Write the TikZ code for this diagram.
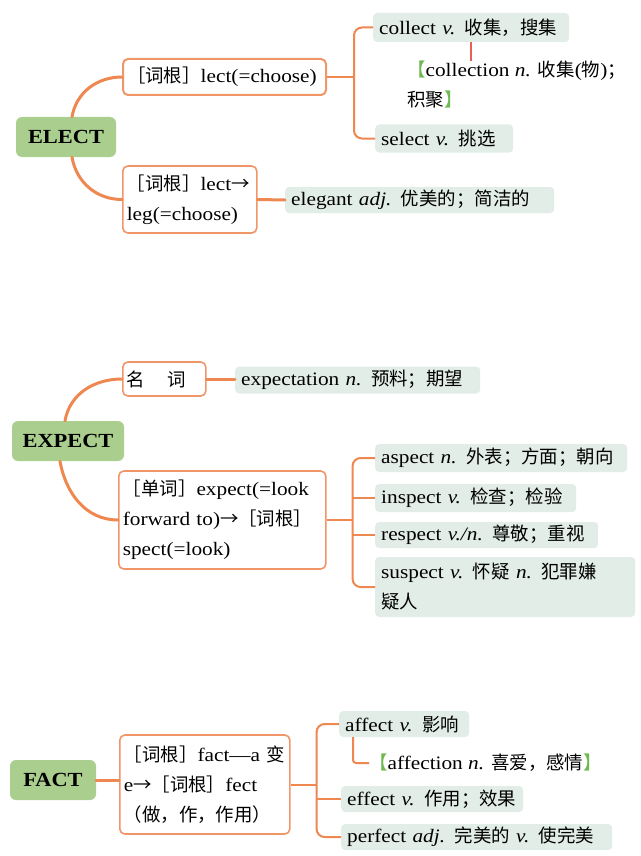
\documentclass[tikz,border=0pt]{standalone}
\usepackage{fontspec}
\setmainfont{Liberation Serif}[FakeStretch=1.12]
\newfontfamily\zhfont{Noto Sans CJK SC}[Scale=0.97]
\newcommand{\zh}[1]{{\zhfont #1}}
\usetikzlibrary{calc}

\definecolor{lineorange}{RGB}{238,135,80}
\definecolor{boxorange}{RGB}{240,150,105}
\definecolor{rootgreen}{RGB}{170,206,142}
\definecolor{leafgreen}{RGB}{225,237,230}
\definecolor{markgreen}{RGB}{110,185,80}
\definecolor{tickred}{RGB}{232,95,85}

\begin{document}
\begin{tikzpicture}[x=1pt, y=-1pt]
    % --- Style Definitions ---
    \tikzset{
        every node/.style={font=\fontsize{19}{30}\selectfont, text=black},
        % Word family head
        root word/.style={
            fill=rootgreen,
            rounded corners=6pt,
            font=\fontsize{20}{24}\selectfont\bfseries,
            inner sep=0pt,
            minimum height=40pt
        },
        % Orange framed etymology box
        stem box/.style={
            draw=boxorange,
            line width=1.6pt,
            rounded corners=5pt,
            fill=white,
            align=left,
            inner xsep=4pt,
            inner ysep=0pt,
            anchor=west
        },
        % Pale green word box
        leaf box/.style={
            fill=leafgreen,
            rounded corners=4pt,
            align=left,
            inner xsep=6pt,
            inner ysep=0pt,
            minimum height=28pt,
            anchor=west
        },
        % Plain note text
        note text/.style={
            align=left,
            inner sep=0pt
        },
        % Connectors
        main branch/.style={
            draw=lineorange,
            line width=3pt,
            line cap=round
        },
        twig/.style={
            draw=lineorange,
            line width=2pt,
            rounded corners=8pt
        },
        tick line/.style={
            draw=tickred,
            line width=1.5pt
        }
    }

    \useasboundingbox (0,0) rectangle (640,856);

    % --- 1. ELECT ---
    \node[root word, minimum width=100pt] (elect) at (66,137) {ELECT};
    \node[stem box, text width=195pt, minimum height=36pt, line width=2pt] (lectA) at (122,77)
        {\zh{［词根］}lect(=choose)};
    \node[stem box, text width=126pt, minimum height=67pt] (lectB) at (122,199.5)
        {\zh{［词根］}lect\zh{→}\\leg(=choose)};

    \node[leaf box, text width=184pt, minimum height=29pt] (collect) at (373,27.5)
        {collect \textit{v.} \zh{收集，搜集}};
    \node[note text, anchor=west] (collection) at (407,85)
        {\textcolor{markgreen}{\zh{【}}collection \textit{n.} \zh{收集}(\zh{物})\zh{；}\\\zh{积聚}\textcolor{markgreen}{\zh{】}}};
    \node[leaf box, text width=126pt] (select) at (375,138.5)
        {select \textit{v.} \zh{挑选}};
    \node[leaf box, text width=257pt, minimum height=26pt] (elegant) at (285,200)
        {elegant \textit{adj.} \zh{优美的；简洁的}};

    \draw[main branch] ([xshift=6pt]elect.north) to[out=80, in=180] (lectA.west);
    \draw[main branch] ([xshift=6pt]elect.south) to[out=-80, in=180] (lectB.west);

    \coordinate (forkA) at ($(lectA.east)+(27,0)$);
    \draw[twig] (lectA.east) -- (forkA);
    \draw[twig] (collect.west) -| (forkA) |- (select.west);
    \draw[tick line] (collect.south) -- (collect.south |- collection.north);
    \draw[main branch] (lectB.east) -- (elegant.west);

    % --- 2. EXPECT ---
    \node[root word, minimum width=112pt] (expect) at (68,441) {EXPECT};
    \node[stem box, text width=75pt, minimum height=34pt] (noun) at (122,379)
        {\zh{名}\hspace{22pt}\zh{词}};
    \node[leaf box, text width=233pt, minimum height=27pt] (expectation) at (235,380)
        {expectation \textit{n.} \zh{预料；期望}};
    \node[stem box, text width=199pt, minimum height=98pt] (spectA) at (118,520)
        {\zh{［单词］}expect(=look\\forward to)\zh{→［词根］}\\spect(=look)};

    \node[leaf box, text width=240pt] (aspect) at (375,458)
        {aspect \textit{n.} \zh{外表；方面；朝向}};
    \node[leaf box, text width=189pt] (inspect) at (375,498)
        {inspect \textit{v.} \zh{检查；检验}};
    \node[leaf box, text width=211pt, minimum height=26pt] (respect) at (375,535)
        {respect \textit{v./n.} \zh{尊敬；重视}};
    \node[leaf box, text width=248pt, minimum height=60pt] (suspect) at (375,587)
        {suspect \textit{v.} \zh{怀疑} \textit{n.} \zh{犯罪嫌}\\\zh{疑人}};

    \draw[main branch] ([xshift=-3pt]expect.north) to[out=80, in=180] (noun.west);
    \draw[main branch] ([xshift=-8pt]expect.south) to[out=-80, in=180] (spectA.west);
    \draw[main branch] (noun.east) -- (noun.east -| expectation.west);

    \coordinate (forkB) at ($(spectA.east)+(26,0)$);
    \draw[twig] (spectA.east) -- (forkB);
    \draw[twig] (aspect.west) -| (forkB) |- (suspect.west);
    \draw[twig] (inspect.west) -- (inspect.west -| forkB);
    \draw[twig] (respect.west) -- (respect.west -| forkB);

    % --- 3. FACT ---
    \node[root word, minimum width=86pt] (fact) at (53,780) {FACT};
    \node[stem box, text width=162pt, minimum height=99pt] (factA) at (119,784.5)
        {\zh{［词根］}fact—a~\zh{变}\\e\zh{→［词根］}fect\\\zh{（做，作，作用）}};

    \node[leaf box, text width=118pt, minimum height=26pt] (affect) at (339,724)
        {affect \textit{v.} \zh{影响}};
    \node[note text, anchor=west] (affection) at (369,763)
        {\textcolor{markgreen}{\zh{【}}affection \textit{n.} \zh{喜爱，感情}\textcolor{markgreen}{\zh{】}}};
    \node[leaf box, text width=170pt, minimum height=26pt] (effect) at (341,799)
        {\mbox{effect \textit{v.} \zh{作用；效果}}};
    \node[leaf box, text width=259pt, minimum height=26pt] (perfect) at (341,837)
        {perfect \textit{adj.} \zh{完美的} \textit{v.} \zh{使完美}};

    \draw[main branch] (fact.east) -- (fact.east -| factA.west);

    \coordinate (forkC) at ($(factA.east)+(26,0)$);
    \draw[twig] (factA.east) -- (forkC);
    \draw[twig] (affect.west) -| (forkC) |- (perfect.west);
    \draw[twig] (effect.west) -- (effect.west -| forkC);
    \draw[twig, rounded corners=3pt] ([xshift=14pt]affect.south west) |- (affection.west);

\end{tikzpicture}
\end{document}
